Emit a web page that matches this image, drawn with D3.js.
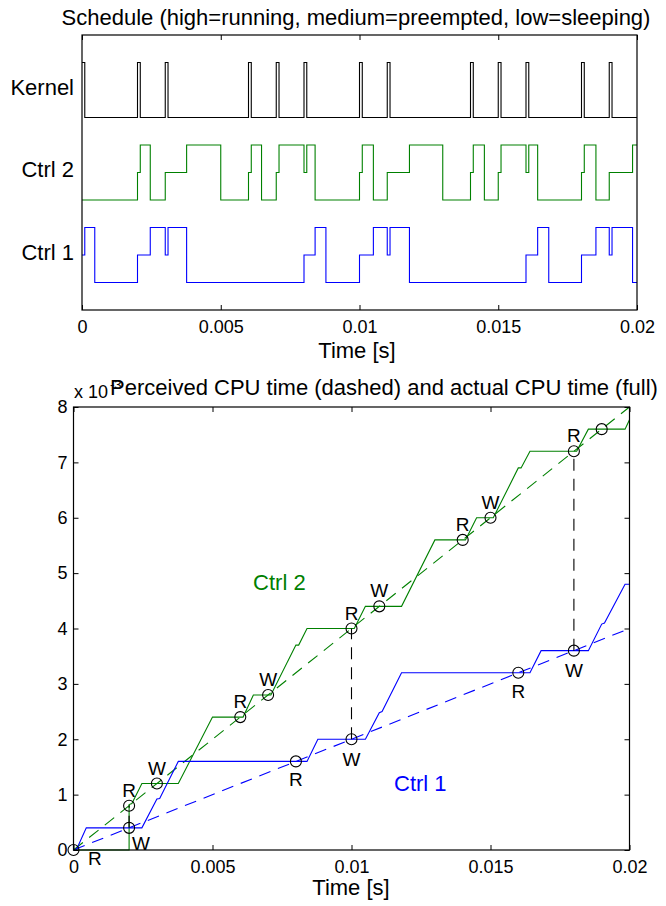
<!DOCTYPE html>
<html>
<head>
<meta charset="utf-8">
<script src="https://cdn.jsdelivr.net/npm/d3@7"></script>
<style>
  body { margin: 0; background: #fff; }
  text { font-family: "Liberation Sans", Arial, Helvetica, sans-serif; }
</style>
</head>
<body>
<div id="wrapper"></div>
<script>
// schedule changes: [time s, state]  state 0 = sleeping, 1 = preempted, 2 = running
const kernelSched = [
  [0, 2], [0.0001, 0], [0.002, 2], [0.0021, 0], [0.003, 2], [0.0031, 0],
  [0.006, 2], [0.0061, 0], [0.007, 2], [0.0071, 0], [0.008, 2], [0.0081, 0],
  [0.010, 2], [0.0101, 0], [0.011, 2], [0.0111, 0], [0.014, 2], [0.0141, 0],
  [0.015, 2], [0.0151, 0], [0.016, 2], [0.0161, 0], [0.018, 2], [0.0181, 0],
  [0.019, 2], [0.0191, 0], [0.020, 0]
]
const ctrl2Sched = [
  [0, 0], [0.002, 1], [0.0021, 2], [0.00246, 0], [0.003, 1], [0.00377, 2], [0.005, 0],
  [0.006, 1], [0.0061, 2], [0.00647, 0], [0.007, 1], [0.0071, 2], [0.008, 1], [0.0081, 2],
  [0.0084, 0], [0.010, 1], [0.0101, 2], [0.0105, 0], [0.011, 1], [0.0118, 2], [0.013, 0],
  [0.014, 1], [0.0141, 2], [0.0145, 0], [0.015, 1], [0.0151, 2], [0.016, 1], [0.0161, 2],
  [0.01642, 0], [0.018, 1], [0.0181, 2], [0.01852, 0], [0.019, 1], [0.01984, 2], [0.020, 2]
]
const ctrl1Sched = [
  [0, 1], [0.0001, 2], [0.00046, 0], [0.002, 1], [0.00246, 2], [0.003, 1], [0.0031, 2],
  [0.00377, 0], [0.008, 1], [0.0084, 2], [0.00879, 0], [0.010, 1], [0.0105, 2], [0.011, 1],
  [0.0111, 2], [0.0118, 0], [0.016, 1], [0.01642, 2], [0.01682, 0], [0.018, 1], [0.01852, 2],
  [0.019, 1], [0.0191, 2], [0.01984, 0], [0.020, 0]
]
const rowNames = ['Ctrl 1', 'Ctrl 2', 'Kernel']
const rowBase = [0, 3, 6]
const rowColors = ['#0000ff', '#008000', '#000000']

// actual CPU time (full lines): [time s, cpu time s]
const ctrl2Actual = [
  [0, 0], [0.002, 0], [0.002, 0.00082], [0.0021, 0.00084], [0.00246, 0.0012], [0.00377, 0.0012],
  [0.005, 0.0024], [0.0061, 0.0024], [0.00647, 0.0028], [0.0071, 0.0028], [0.008, 0.0037],
  [0.0081, 0.0037], [0.0084, 0.004], [0.0101, 0.004], [0.0105, 0.0044], [0.0118, 0.0044],
  [0.013, 0.0056], [0.0141, 0.0056], [0.0145, 0.006], [0.0151, 0.006], [0.016, 0.0069],
  [0.0161, 0.0069], [0.01642, 0.0072], [0.0181, 0.0072], [0.01852, 0.0076], [0.01984, 0.0076],
  [0.020, 0.00777]
]
const ctrl1Actual = [
  [0, 0], [0.0001, 0], [0.00046, 0.0004], [0.00246, 0.0004], [0.003, 0.00092], [0.0031, 0.00093],
  [0.00377, 0.0016], [0.0084, 0.0016], [0.00879, 0.002], [0.0105, 0.002], [0.011, 0.00248],
  [0.0111, 0.0025], [0.0118, 0.0032], [0.01642, 0.0032], [0.01682, 0.0036], [0.01852, 0.0036],
  [0.019, 0.00408], [0.0191, 0.0041], [0.01984, 0.0048], [0.020, 0.0048]
]
// perceived CPU time (dashed lines)
const ctrl2Perceived = [[0, 0], [0.020, 0.008]]
const ctrl1Perceived = [[0, 0], [0.020, 0.004]]

// markers: [time, cpu, label, label time, label cpu]
const ctrl2Marks = [
  [0.002, 0.0008, 'R', 0.002, 0.00096], [0.003, 0.0012, 'W', 0.003, 0.00136],
  [0.006, 0.0024, 'R', 0.006, 0.00256], [0.007, 0.0028, 'W', 0.007, 0.00296],
  [0.010, 0.004, 'R', 0.010, 0.00416], [0.011, 0.0044, 'W', 0.011, 0.00456],
  [0.014, 0.0056, 'R', 0.014, 0.00576], [0.015, 0.006, 'W', 0.015, 0.00616],
  [0.018, 0.0072, 'R', 0.018, 0.00736], [0.019, 0.0076, '', 0.019, 0.0076]
]
const ctrl1Marks = [
  [0, 0, 'R', 0.00077, -0.00027], [0.002, 0.0004, 'W', 0.00243, 0.0],
  [0.008, 0.0016, 'R', 0.008, 0.00115], [0.010, 0.002, 'W', 0.010, 0.00151],
  [0.016, 0.0032, 'R', 0.016, 0.00275], [0.018, 0.0036, 'W', 0.018, 0.00312]
]
// dashed black links between the two controllers
const links = [[0.002, 0.0004, 0.0008], [0.010, 0.002, 0.004], [0.018, 0.0036, 0.0072]]

const xTicks = [0, 0.005, 0.01, 0.015, 0.02]
const xTickLabels = ['0', '0.005', '0.01', '0.015', '0.02']
const yTicks = [0, 0.001, 0.002, 0.003, 0.004, 0.005, 0.006, 0.007, 0.008]
const yTickLabels = ['0', '1', '2', '3', '4', '5', '6', '7', '8']

const svg = d3.select('#wrapper').append('svg')
  .attr('width', 666)
  .attr('height', 906)
svg.append('rect').attr('width', 666).attr('height', 906).attr('fill', '#fff')

function drawTicks(g, x, y, labelsY) {
  const [x0, x1] = x.range()
  const [y0, y1] = y.range()
  g.append('g')
    .attr('transform', `translate(0,${y0})`)
    .call(d3.axisBottom(x).tickValues(xTicks).tickFormat((d, i) => xTickLabels[i]).tickSize(-5).tickPadding(10))
  g.append('g')
    .attr('transform', `translate(0,${y1})`)
    .call(d3.axisTop(x).tickValues(xTicks).tickFormat('').tickSize(-5))
  if (labelsY) {
    g.append('g')
      .attr('transform', `translate(${x0},0)`)
      .call(d3.axisLeft(y).tickValues(yTicks).tickFormat((d, i) => yTickLabels[i]).tickSize(-5).tickPadding(6))
    g.append('g')
      .attr('transform', `translate(${x1},0)`)
      .call(d3.axisRight(y).tickValues(yTicks).tickFormat('').tickSize(-5))
  }
  g.selectAll('.domain').remove()
  g.selectAll('.tick line').attr('stroke', '#000')
  g.selectAll('.tick text').attr('font-size', 18).attr('fill', '#000')
    .attr('font-family', '"Liberation Sans", Arial, sans-serif')
  g.append('rect')
    .attr('x', x0).attr('y', y1)
    .attr('width', x1 - x0).attr('height', y0 - y1)
    .attr('fill', 'none').attr('stroke', '#000').attr('stroke-width', 1.2)
}

// ---------- top: schedule ----------
const xTop = d3.scaleLinear().domain([0, 0.02]).range([82, 637])
const yTop = d3.scaleLinear().domain([-1, 9]).range([310, 35])
const schedG = svg.append('g')

const scheds = [ctrl1Sched, ctrl2Sched, kernelSched]
scheds.forEach((s, i) => {
  const line = d3.line()
    .x(d => xTop(d[0]))
    .y(d => yTop(rowBase[i] + d[1]))
    .curve(d3.curveStepAfter)
  schedG.append('path')
    .attr('d', line(s))
    .attr('fill', 'none')
    .attr('stroke', rowColors[i])
    .attr('stroke-width', 1.1)
})

rowNames.forEach((n, i) => {
  schedG.append('text')
    .attr('x', 74)
    .attr('y', yTop(rowBase[i] + 1) + 4.5)
    .attr('text-anchor', 'end')
    .attr('font-size', 22)
    .text(n)
})

drawTicks(schedG, xTop, yTop, false)

schedG.append('text')
  .attr('x', 356).attr('y', 25)
  .attr('text-anchor', 'middle').attr('font-size', 22)
  .text('Schedule (high=running, medium=preempted, low=sleeping)')
schedG.append('text')
  .attr('x', 357).attr('y', 358)
  .attr('text-anchor', 'middle').attr('font-size', 22)
  .text('Time [s]')

// ---------- bottom: CPU time ----------
const xBot = d3.scaleLinear().domain([0, 0.02]).range([73.5, 629.5])
const yBot = d3.scaleLinear().domain([0, 0.008]).range([850, 407])
const cpuG = svg.append('g')

const cpuLine = d3.line().x(d => xBot(d[0])).y(d => yBot(d[1]))

cpuG.append('path').attr('d', cpuLine(ctrl2Perceived))
  .attr('fill', 'none').attr('stroke', '#008000').attr('stroke-width', 1.1).attr('stroke-dasharray', '12,8')
cpuG.append('path').attr('d', cpuLine(ctrl1Perceived))
  .attr('fill', 'none').attr('stroke', '#0000ff').attr('stroke-width', 1.1).attr('stroke-dasharray', '12,8')
cpuG.append('path').attr('d', cpuLine(ctrl2Actual))
  .attr('fill', 'none').attr('stroke', '#008000').attr('stroke-width', 1.1)
cpuG.append('path').attr('d', cpuLine(ctrl1Actual))
  .attr('fill', 'none').attr('stroke', '#0000ff').attr('stroke-width', 1.1)

cpuG.selectAll('.link')
  .data(links)
  .enter()
  .append('line')
  .attr('x1', d => xBot(d[0])).attr('x2', d => xBot(d[0]))
  .attr('y1', d => yBot(d[1])).attr('y2', d => yBot(d[2]))
  .attr('stroke', '#000').attr('stroke-width', 1.1).attr('stroke-dasharray', '12,8')

const marks = ctrl2Marks.concat(ctrl1Marks)
cpuG.selectAll('.mark')
  .data(marks)
  .enter()
  .append('circle')
  .attr('cx', d => xBot(d[0]))
  .attr('cy', d => yBot(d[1]))
  .attr('r', 5.5)
  .attr('fill', 'none')
  .attr('stroke', '#000')
  .attr('stroke-width', 1.1)
cpuG.selectAll('.marklabel')
  .data(marks)
  .enter()
  .append('text')
  .attr('x', d => xBot(d[3]))
  .attr('y', d => yBot(d[4]))
  .attr('text-anchor', 'middle')
  .attr('font-size', 19)
  .text(d => d[2])

cpuG.append('text')
  .attr('x', xBot(0.00646)).attr('y', yBot(0.0047))
  .attr('font-size', 22).attr('fill', '#008000')
  .text('Ctrl 2')
cpuG.append('text')
  .attr('x', xBot(0.01153)).attr('y', yBot(0.00107))
  .attr('font-size', 22).attr('fill', '#0000ff')
  .text('Ctrl 1')

drawTicks(cpuG, xBot, yBot, true)

cpuG.append('text')
  .attr('x', 74).attr('y', 398).attr('font-size', 18)
  .text('x 10')
cpuG.append('text')
  .attr('x', 110).attr('y', 389).attr('font-size', 13)
  .text('-3')
cpuG.append('text')
  .attr('x', 384).attr('y', 395)
  .attr('text-anchor', 'middle').attr('font-size', 22)
  .text('Perceived CPU time (dashed) and actual CPU time (full)')
cpuG.append('text')
  .attr('x', 351).attr('y', 895)
  .attr('text-anchor', 'middle').attr('font-size', 22)
  .text('Time [s]')
</script>
</body>
</html>
